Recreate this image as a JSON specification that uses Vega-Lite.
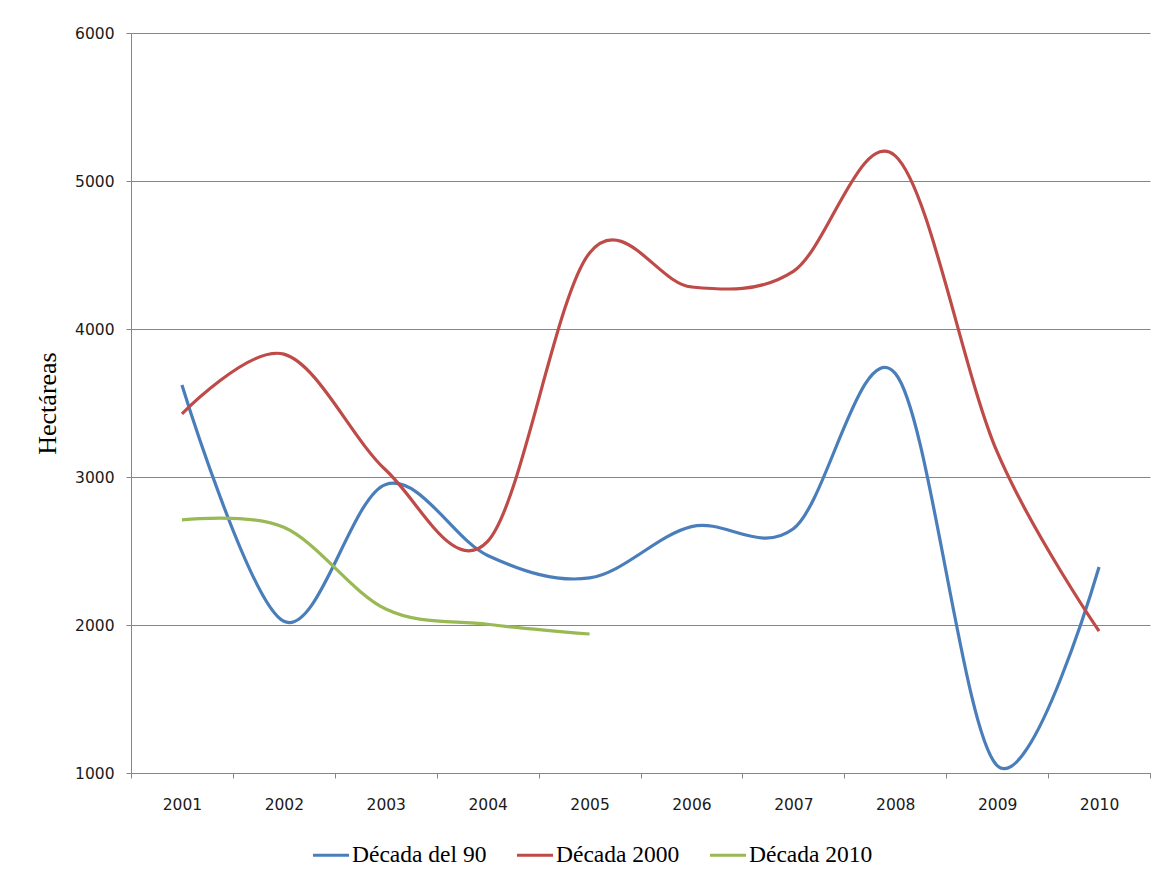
{
  "$schema": "https://vega.github.io/schema/vega-lite/v6.json",
  "width": 1019,
  "height": 740,
  "autosize": {"type": "none"},
  "padding": {"left": 131, "top": 33, "right": 5, "bottom": 103},
  "background": "white",
  "config": {
    "view": {"stroke": null},
    "axis": {
      "labelFont": "DejaVu Sans",
      "labelFontSize": 15.5,
      "labelColor": "#1a1a1a",
      "domainColor": "#868686",
      "tickColor": "#868686",
      "gridColor": "#868686",
      "tickSize": 5
    }
  },
  "data": {
    "values": [
      {"year": "2001", "serie": "Década del 90", "value": 3622},
      {"year": "2002", "serie": "Década del 90", "value": 2025},
      {"year": "2003", "serie": "Década del 90", "value": 2950},
      {"year": "2004", "serie": "Década del 90", "value": 2470},
      {"year": "2005", "serie": "Década del 90", "value": 2318},
      {"year": "2006", "serie": "Década del 90", "value": 2665},
      {"year": "2007", "serie": "Década del 90", "value": 2650},
      {"year": "2008", "serie": "Década del 90", "value": 3700},
      {"year": "2009", "serie": "Década del 90", "value": 1050},
      {"year": "2010", "serie": "Década del 90", "value": 2392},
      {"year": "2001", "serie": "Década 2000", "value": 3426},
      {"year": "2002", "serie": "Década 2000", "value": 3830},
      {"year": "2003", "serie": "Década 2000", "value": 3047},
      {"year": "2004", "serie": "Década 2000", "value": 2565},
      {"year": "2005", "serie": "Década 2000", "value": 4514},
      {"year": "2006", "serie": "Década 2000", "value": 4284},
      {"year": "2007", "serie": "Década 2000", "value": 4390},
      {"year": "2008", "serie": "Década 2000", "value": 5170},
      {"year": "2009", "serie": "Década 2000", "value": 3169},
      {"year": "2010", "serie": "Década 2000", "value": 1959},
      {"year": "2001", "serie": "Década 2010", "value": 2710},
      {"year": "2002", "serie": "Década 2010", "value": 2660},
      {"year": "2003", "serie": "Década 2010", "value": 2108},
      {"year": "2004", "serie": "Década 2010", "value": 2005},
      {"year": "2005", "serie": "Década 2010", "value": 1939}
    ]
  },
  "mark": {"type": "line", "interpolate": "cardinal", "strokeWidth": 3.2},
  "encoding": {
    "x": {
      "field": "year",
      "type": "ordinal",
      "scale": {"type": "band", "paddingInner": 0, "paddingOuter": 0},
      "axis": {
        "title": null,
        "labelAngle": 0,
        "tickBand": "extent",
        "labelPadding": 19,
        "grid": false
      }
    },
    "y": {
      "field": "value",
      "type": "quantitative",
      "scale": {"domain": [1000, 6000], "nice": false, "zero": false},
      "axis": {
        "values": [1000, 2000, 3000, 4000, 5000, 6000],
        "format": "d",
        "grid": true,
        "labelPadding": 12,
        "title": "Hectáreas",
        "titleFont": "Liberation Serif",
        "titleFontSize": 26,
        "titleFontWeight": "normal",
        "titleColor": "#000000",
        "titlePadding": 14
      }
    },
    "color": {
      "field": "serie",
      "type": "nominal",
      "scale": {
        "domain": ["Década del 90", "Década 2000", "Década 2010"],
        "range": ["#4A7EBB", "#BE4B48", "#98B954"]
      },
      "legend": {
        "title": null,
        "orient": "none",
        "direction": "horizontal",
        "legendX": 180,
        "legendY": 802,
        "symbolType": "stroke",
        "symbolSize": 1296,
        "symbolStrokeWidth": 3.2,
        "labelFont": "Liberation Serif",
        "labelFontSize": 23.5,
        "labelColor": "#000000",
        "labelOffset": 1,
        "columnPadding": 23,
        "labelLimit": 400
      }
    }
  }
}
